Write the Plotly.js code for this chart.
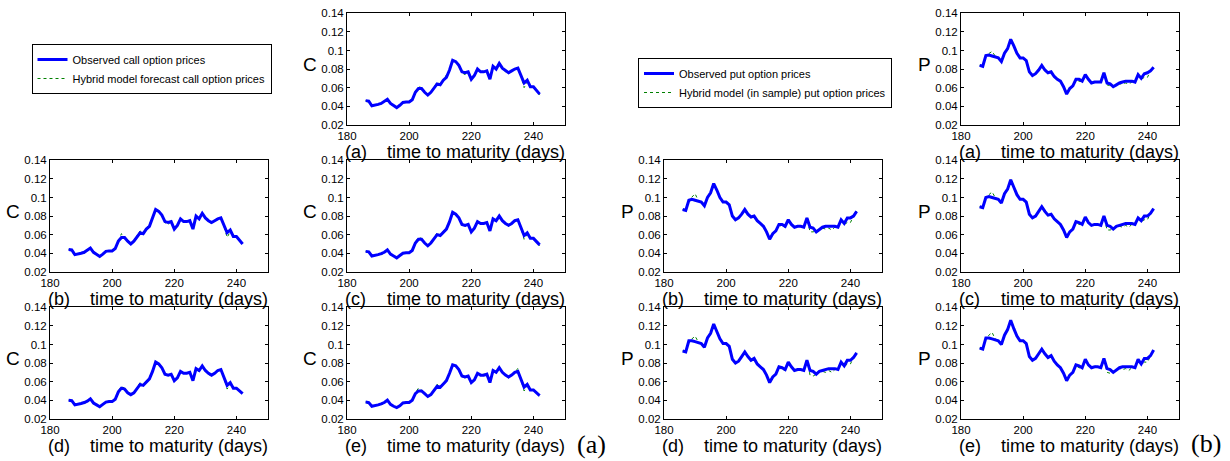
<!DOCTYPE html>
<html><head><meta charset="utf-8">
<script src="https://cdn.plot.ly/plotly-3.0.1.min.js"></script>
<style>html,body{margin:0;padding:0;background:#fff}#chart{width:1230px;height:461px}</style>
</head><body><div id="chart"></div>
<script>
// ---------------- DATA ----------------
const days = [186,187,188,189,190,191,192,193,194,195,196,197,198,199,200,201,202,203,204,205,206,207,208,209,210,211,212,213,214,215,216,217,218,219,220,221,222,223,224,225,226,227,228,229,230,231,232,233,234,235,236,237,238,239,240,241,242];

const callObs_a = [0.046,0.0455,0.0405,0.041,0.042,0.043,0.045,0.0475,0.043,0.0405,0.0385,0.041,0.044,0.0445,0.0445,0.047,0.055,0.059,0.059,0.055,0.052,0.055,0.060,0.064,0.063,0.068,0.071,0.079,0.0895,0.088,0.084,0.077,0.076,0.077,0.069,0.073,0.080,0.077,0.077,0.078,0.069,0.083,0.080,0.086,0.081,0.078,0.076,0.078,0.080,0.081,0.073,0.065,0.068,0.061,0.061,0.057,0.053];
const callFc_a  = [0.046,0.044,0.0405,0.041,0.042,0.042,0.045,0.0475,0.042,0.0405,0.0385,0.041,0.044,0.0445,0.0445,0.047,0.056,0.061,0.060,0.055,0.052,0.055,0.061,0.066,0.063,0.068,0.073,0.079,0.0895,0.088,0.083,0.076,0.074,0.077,0.069,0.073,0.080,0.077,0.078,0.078,0.069,0.082,0.079,0.086,0.081,0.077,0.075,0.078,0.080,0.081,0.072,0.060,0.066,0.061,0.061,0.057,0.052];
const callObs_b = [0.044,0.0435,0.0385,0.039,0.040,0.041,0.043,0.0455,0.041,0.0385,0.0365,0.039,0.042,0.0425,0.0425,0.045,0.053,0.057,0.057,0.053,0.050,0.053,0.058,0.062,0.061,0.066,0.069,0.077,0.087,0.085,0.081,0.074,0.073,0.074,0.066,0.070,0.077,0.074,0.074,0.075,0.066,0.080,0.077,0.083,0.078,0.075,0.073,0.075,0.077,0.078,0.070,0.062,0.065,0.058,0.058,0.054,0.050];
const callFc_b  = [0.044,0.042,0.0375,0.039,0.040,0.040,0.043,0.0455,0.040,0.0385,0.0365,0.039,0.042,0.0425,0.0425,0.045,0.054,0.061,0.058,0.053,0.050,0.053,0.059,0.064,0.061,0.066,0.071,0.077,0.087,0.085,0.080,0.073,0.071,0.074,0.066,0.070,0.077,0.074,0.075,0.075,0.066,0.079,0.076,0.083,0.078,0.074,0.072,0.075,0.077,0.078,0.069,0.057,0.063,0.058,0.058,0.054,0.050];
const callObs_c = [0.042,0.0415,0.037,0.0375,0.0385,0.0395,0.041,0.0435,0.039,0.037,0.035,0.0375,0.040,0.0405,0.0405,0.043,0.051,0.055,0.055,0.051,0.048,0.051,0.056,0.060,0.059,0.063,0.066,0.074,0.084,0.082,0.078,0.071,0.070,0.071,0.063,0.067,0.074,0.072,0.072,0.073,0.064,0.077,0.075,0.080,0.075,0.072,0.070,0.072,0.075,0.076,0.068,0.059,0.062,0.056,0.056,0.052,0.049];
const callFc_c  = [0.042,0.040,0.037,0.0375,0.0385,0.038,0.041,0.0435,0.038,0.037,0.035,0.0375,0.040,0.0405,0.0405,0.043,0.052,0.057,0.056,0.051,0.048,0.051,0.057,0.062,0.059,0.063,0.068,0.074,0.084,0.082,0.077,0.070,0.069,0.071,0.063,0.067,0.074,0.072,0.073,0.073,0.064,0.076,0.074,0.080,0.075,0.071,0.069,0.072,0.075,0.076,0.067,0.055,0.060,0.056,0.056,0.052,0.048];
const callObs_d = [0.040,0.0395,0.035,0.0355,0.0365,0.0375,0.039,0.0415,0.037,0.035,0.033,0.0355,0.038,0.0385,0.0385,0.041,0.049,0.053,0.052,0.048,0.046,0.048,0.053,0.057,0.056,0.060,0.063,0.071,0.081,0.079,0.075,0.068,0.067,0.068,0.061,0.064,0.071,0.069,0.069,0.070,0.061,0.074,0.072,0.077,0.072,0.069,0.067,0.069,0.072,0.073,0.065,0.056,0.059,0.053,0.053,0.050,0.047];
const callFc_d  = [0.040,0.038,0.035,0.0355,0.0365,0.036,0.039,0.0415,0.036,0.035,0.033,0.0355,0.038,0.0385,0.0385,0.041,0.050,0.055,0.053,0.048,0.046,0.048,0.054,0.059,0.056,0.060,0.065,0.071,0.081,0.079,0.074,0.067,0.066,0.068,0.061,0.064,0.071,0.069,0.070,0.070,0.061,0.073,0.071,0.077,0.072,0.068,0.066,0.069,0.072,0.074,0.064,0.052,0.057,0.053,0.053,0.050,0.046];
const callObs_e = [0.038,0.0375,0.0335,0.034,0.035,0.036,0.0375,0.040,0.0355,0.0335,0.032,0.034,0.037,0.0375,0.0375,0.040,0.047,0.050,0.050,0.047,0.044,0.046,0.051,0.055,0.054,0.058,0.061,0.069,0.078,0.077,0.073,0.066,0.065,0.066,0.059,0.062,0.069,0.067,0.067,0.068,0.059,0.072,0.070,0.075,0.070,0.067,0.065,0.067,0.070,0.071,0.063,0.054,0.057,0.051,0.051,0.048,0.045];
const callFc_e  = [0.038,0.036,0.0335,0.034,0.035,0.0345,0.0375,0.040,0.0345,0.0335,0.032,0.034,0.037,0.0375,0.0375,0.040,0.048,0.053,0.051,0.047,0.044,0.046,0.052,0.057,0.054,0.058,0.063,0.069,0.078,0.077,0.072,0.065,0.064,0.066,0.059,0.062,0.069,0.067,0.068,0.068,0.059,0.071,0.069,0.075,0.070,0.066,0.064,0.067,0.070,0.074,0.062,0.050,0.055,0.051,0.051,0.048,0.044];

const putObs_a = [0.084,0.083,0.0945,0.095,0.094,0.093,0.092,0.088,0.097,0.102,0.112,0.105,0.097,0.092,0.092,0.089,0.077,0.073,0.075,0.079,0.084,0.079,0.076,0.077,0.072,0.069,0.067,0.061,0.053,0.059,0.062,0.069,0.069,0.067,0.074,0.069,0.065,0.066,0.066,0.066,0.076,0.065,0.064,0.061,0.063,0.065,0.066,0.067,0.067,0.067,0.066,0.074,0.070,0.075,0.076,0.078,0.082];
const putFc_a  = [0.084,0.083,0.0945,0.097,0.099,0.094,0.092,0.088,0.097,0.102,0.112,0.105,0.096,0.092,0.092,0.089,0.078,0.073,0.075,0.079,0.084,0.078,0.075,0.077,0.072,0.069,0.067,0.061,0.053,0.058,0.062,0.068,0.067,0.066,0.074,0.069,0.065,0.066,0.066,0.066,0.076,0.063,0.062,0.062,0.063,0.064,0.064,0.065,0.064,0.066,0.066,0.073,0.069,0.071,0.071,0.078,0.082];
const putObs_b = [0.087,0.086,0.097,0.098,0.097,0.096,0.095,0.091,0.100,0.105,0.115,0.108,0.100,0.095,0.095,0.092,0.080,0.076,0.078,0.082,0.087,0.082,0.079,0.080,0.075,0.072,0.069,0.063,0.055,0.061,0.064,0.071,0.071,0.069,0.076,0.071,0.068,0.069,0.069,0.068,0.078,0.068,0.067,0.063,0.066,0.068,0.069,0.069,0.069,0.069,0.068,0.076,0.072,0.078,0.078,0.080,0.085];
const putFc_b  = [0.087,0.086,0.097,0.100,0.104,0.097,0.095,0.091,0.100,0.105,0.115,0.108,0.099,0.095,0.095,0.092,0.081,0.076,0.078,0.082,0.087,0.081,0.078,0.080,0.075,0.072,0.069,0.063,0.055,0.060,0.064,0.070,0.069,0.068,0.076,0.071,0.068,0.069,0.069,0.068,0.078,0.063,0.063,0.064,0.066,0.067,0.066,0.067,0.065,0.068,0.068,0.075,0.071,0.073,0.073,0.080,0.085];
const putObs_c = [0.090,0.089,0.100,0.101,0.100,0.099,0.098,0.094,0.104,0.109,0.119,0.111,0.103,0.098,0.098,0.095,0.082,0.078,0.080,0.085,0.090,0.085,0.081,0.082,0.077,0.074,0.071,0.065,0.057,0.063,0.066,0.074,0.073,0.071,0.079,0.073,0.070,0.071,0.071,0.070,0.080,0.070,0.069,0.066,0.069,0.070,0.071,0.072,0.072,0.072,0.071,0.078,0.075,0.080,0.080,0.083,0.088];
const putFc_c  = [0.090,0.089,0.100,0.103,0.106,0.100,0.098,0.094,0.104,0.109,0.119,0.111,0.102,0.098,0.098,0.095,0.083,0.078,0.080,0.085,0.090,0.084,0.080,0.082,0.077,0.074,0.071,0.065,0.057,0.062,0.066,0.073,0.071,0.070,0.079,0.073,0.070,0.072,0.071,0.070,0.080,0.065,0.065,0.066,0.069,0.069,0.068,0.070,0.068,0.071,0.071,0.077,0.074,0.076,0.076,0.083,0.088];
const putObs_d = [0.093,0.092,0.104,0.104,0.103,0.102,0.101,0.097,0.107,0.112,0.122,0.114,0.106,0.101,0.101,0.098,0.084,0.080,0.082,0.087,0.092,0.087,0.083,0.085,0.079,0.076,0.073,0.067,0.059,0.065,0.068,0.076,0.075,0.073,0.081,0.076,0.072,0.073,0.073,0.072,0.083,0.072,0.071,0.068,0.071,0.072,0.073,0.074,0.074,0.074,0.073,0.081,0.077,0.083,0.083,0.086,0.091];
const putFc_d  = [0.093,0.092,0.104,0.106,0.109,0.103,0.101,0.097,0.107,0.112,0.122,0.114,0.105,0.101,0.101,0.098,0.085,0.080,0.082,0.087,0.092,0.086,0.082,0.085,0.079,0.076,0.073,0.067,0.059,0.064,0.068,0.075,0.073,0.072,0.081,0.076,0.072,0.074,0.073,0.072,0.083,0.067,0.066,0.068,0.071,0.071,0.070,0.072,0.070,0.073,0.073,0.080,0.076,0.079,0.079,0.086,0.091];
const putObs_e = [0.096,0.095,0.107,0.107,0.106,0.105,0.104,0.100,0.110,0.116,0.126,0.117,0.109,0.104,0.104,0.101,0.087,0.083,0.085,0.090,0.095,0.090,0.086,0.088,0.082,0.078,0.075,0.069,0.061,0.067,0.070,0.078,0.077,0.075,0.084,0.078,0.075,0.076,0.076,0.075,0.085,0.074,0.073,0.070,0.073,0.075,0.076,0.076,0.076,0.076,0.075,0.084,0.079,0.085,0.085,0.088,0.094];
const putFc_e  = [0.096,0.095,0.107,0.110,0.113,0.106,0.104,0.100,0.110,0.116,0.126,0.117,0.108,0.104,0.104,0.101,0.088,0.083,0.085,0.090,0.095,0.089,0.085,0.088,0.082,0.078,0.075,0.069,0.061,0.066,0.070,0.077,0.075,0.074,0.084,0.078,0.075,0.077,0.076,0.075,0.085,0.070,0.069,0.070,0.073,0.074,0.073,0.074,0.072,0.075,0.075,0.083,0.078,0.081,0.081,0.088,0.094];

const panelLetters = ['(a)','(b)','(c)','(d)','(e)'];
const xTickVals = [180,200,220,240];
const xTickText = ['180','200','220','240'];
const yTickVals = [0.02,0.04,0.06,0.08,0.1,0.12,0.14];
const yTickText = ['0.02','0.04','0.06','0.08','0.1','0.12','0.14'];
const xTitleText = 'time to maturity (days)';
const callLegendNames = ['Observed call option prices','Hybrid model forecast call option prices'];
const putLegendNames = ['Observed put option prices','Hybrid model (in sample) put option prices'];
const groupLabels = ['(a)','(b)'];

// ---------------- LAYOUT ----------------
const W = 1230, H = 461;
const colLeft = [50, 347, 664, 961];
const rowTop = [13.3, 160.3, 307.3];
const PW = 217.5, PH = 111.5;
const px = x => x / W;
const py = y => 1 - y / H;

const callSeries = [[callObs_a,callFc_a],[callObs_b,callFc_b],[callObs_c,callFc_c],[callObs_d,callFc_d],[callObs_e,callFc_e]];
const putSeries  = [[putObs_a,putFc_a],[putObs_b,putFc_b],[putObs_c,putFc_c],[putObs_d,putFc_d],[putObs_e,putFc_e]];
// grid slots for panels (a)..(e): [col,row] relative to group
const slots = [[1,0],[0,1],[1,1],[0,2],[1,2]];

const panels = [];
callSeries.forEach((s,i)=>panels.push({obs:s[0], fc:s[1], col:slots[i][0], row:slots[i][1], letter:panelLetters[i], ylab:'C', legend:'legend', names:callLegendNames}));
putSeries.forEach((s,i)=>panels.push({obs:s[0], fc:s[1], col:slots[i][0]+2, row:slots[i][1], letter:panelLetters[i], ylab:'P', legend:'legend2', names:putLegendNames}));

const font = 'Liberation Sans, Arial, Helvetica, sans-serif';
const traces = [];
const layout = {
  width: W, height: H, autosize: false,
  margin: {l:0, r:0, t:0, b:0},
  paper_bgcolor: '#fff', plot_bgcolor: '#fff',
  font: {family: font, color: '#000', size: 11.5},
  showlegend: true,
  legend: {x: px(31.5), y: py(44), xanchor:'left', yanchor:'top', bgcolor:'#fff', bordercolor:'#000', borderwidth:1,
           font:{family:font, size:11, color:'#000'}, tracegroupgap:0, itemwidth:30},
  legend2: {x: px(638), y: py(58), xanchor:'left', yanchor:'top', bgcolor:'#fff', bordercolor:'#000', borderwidth:1,
           font:{family:font, size:11, color:'#000'}, tracegroupgap:0, itemwidth:30},
  annotations: []
};

panels.forEach((p,i)=>{
  const k = i+1;
  const xa = k===1 ? 'x' : 'x'+k, ya = k===1 ? 'y' : 'y'+k;
  const L = colLeft[p.col], T = rowTop[p.row];
  const first = (i===0 || i===5);
  traces.push({x: days, y: p.fc, xaxis: xa, yaxis: ya, type:'scatter', mode:'lines',
    line:{color:'#008000', width:1, dash:'dot'}, name:p.names[1], legend:p.legend, legendrank:2, showlegend:first, hoverinfo:'skip'});
  traces.push({x: days, y: p.obs, xaxis: xa, yaxis: ya, type:'scatter', mode:'lines',
    line:{color:'#0000ff', width:3}, name:p.names[0], legend:p.legend, legendrank:1, showlegend:first, hoverinfo:'skip'});
  const axCommon = {showline:true, mirror:'ticks', linecolor:'#000', linewidth:1, ticks:'inside', ticklen:3, tickcolor:'#000',
    showgrid:false, zeroline:false, fixedrange:true, tickfont:{family:font, size:11.5, color:'#000'}};
  layout['xaxis'+(k===1?'':k)] = Object.assign({}, axCommon, {domain:[px(L), px(L+PW)], range:[180,250], anchor:ya,
    tickmode:'array', tickvals:xTickVals, ticktext:xTickText});
  layout['yaxis'+(k===1?'':k)] = Object.assign({}, axCommon, {domain:[py(T+PH), py(T)], range:[0.02,0.14], anchor:xa,
    tickmode:'array', tickvals:yTickVals, ticktext:yTickText});
  // x-axis title pieces
  layout.annotations.push({xref:'paper', yref:'paper', x:px(L-4), y:py(T+PH+27), xanchor:'left', yanchor:'middle',
    text:p.letter, showarrow:false, font:{family:font, size:18, color:'#000'}});
  layout.annotations.push({xref:'paper', yref:'paper', x:px(L+PW+2.5), y:py(T+PH+27), xanchor:'right', yanchor:'middle',
    text:xTitleText, showarrow:false, font:{family:font, size:18, color:'#000'}});
  // y label
  layout.annotations.push({xref:'paper', yref:'paper', x:px(L-37), y:py(T+51), xanchor:'center', yanchor:'middle',
    text:p.ylab, showarrow:false, font:{family:font, size:19, color:'#000'}});
});

layout.annotations.push({xref:'paper', yref:'paper', x:px(591), y:py(444), xanchor:'center', yanchor:'middle',
  text:groupLabels[0], showarrow:false, font:{family:'Liberation Serif, serif', size:26, color:'#000'}});
layout.annotations.push({xref:'paper', yref:'paper', x:px(1206), y:py(443), xanchor:'center', yanchor:'middle',
  text:groupLabels[1], showarrow:false, font:{family:'Liberation Serif, serif', size:26, color:'#000'}});

Plotly.newPlot('chart', traces, layout, {staticPlot:true, displayModeBar:false});
</script>
</body></html>
